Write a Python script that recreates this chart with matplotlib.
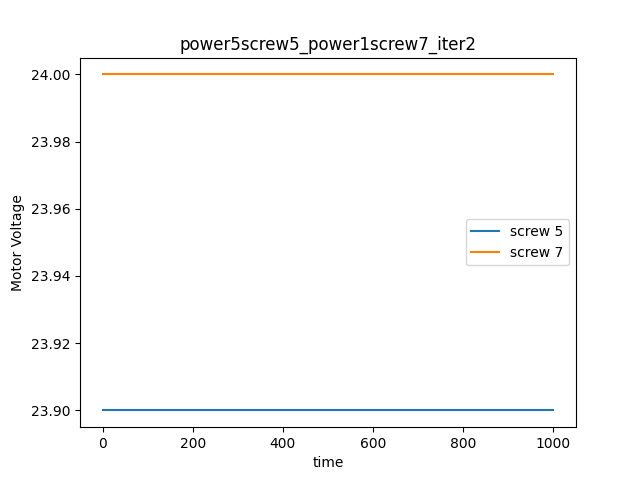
import matplotlib
matplotlib.use("Agg")
import matplotlib.pyplot as plt

time = [0, 1000]
screw5_voltage = [23.9, 23.9]
screw7_voltage = [24.0, 24.0]

fig, ax = plt.subplots(figsize=(6.4, 4.8), dpi=100)
ax.plot(time, screw5_voltage, label="screw 5")
ax.plot(time, screw7_voltage, label="screw 7")
ax.set_title("power5screw5_power1screw7_iter2")
ax.set_xlabel("time")
ax.set_ylabel("Motor Voltage")
ax.legend(loc="center right")
fig.savefig("out.png")
